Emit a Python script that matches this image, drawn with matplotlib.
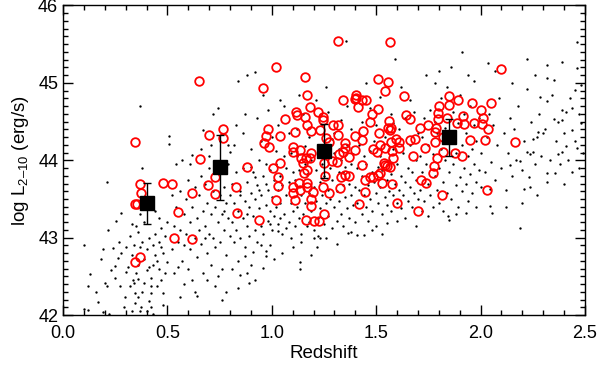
import numpy as np
import matplotlib
matplotlib.use("Agg")
import matplotlib.pyplot as plt
from matplotlib.ticker import MultipleLocator

plt.rcParams["font.family"] = ["Liberation Sans", "DejaVu Sans"]
plt.rcParams["mathtext.fontset"] = "custom"
plt.rcParams["mathtext.rm"] = "Liberation Sans"

# binned means (black squares) with error bars
bin_z = [0.40, 0.75, 1.25, 1.85]
bin_L = [43.45, 43.92, 44.12, 44.30]
bin_lo = [43.18, 43.49, 43.77, 44.06]
bin_hi = [43.71, 44.33, 44.47, 44.54]

# red open circles (z, logL)
circles = [
    (0.343, 44.24), (0.65, 45.02), (0.343, 43.43), (0.355, 43.44), (0.37, 43.70), (0.375, 43.58),
    (0.343, 42.69), (0.367, 42.75), (0.48, 43.71), (0.52, 43.69), (0.55, 43.33), (0.53, 43.00),
    (0.62, 43.58), (0.62, 42.98), (0.655, 44.02), (0.70, 44.33), (0.695, 43.68), (0.727, 43.78),
    (0.727, 43.56), (0.764, 44.41), (0.764, 44.29), (0.827, 43.65), (0.834, 43.32), (0.879, 43.92),
    (0.94, 43.23), (0.96, 44.94), (1.02, 45.21), (0.98, 44.41), (0.97, 44.32), (0.963, 44.22),
    (0.987, 44.17), (1.065, 44.54), (1.04, 44.32), (1.006, 43.90), (1.04, 43.97), (1.03, 43.78),
    (1.03, 43.67), (1.02, 43.49), (1.118, 44.62), (1.123, 44.58), (1.11, 44.37), (1.10, 44.17),
    (1.10, 44.11), (1.10, 43.66), (1.10, 43.58),
    (1.317, 45.54), (1.566, 45.53), (1.159, 45.08), (1.509, 45.05), (1.557, 45.01), (1.542, 44.90),
    (1.633, 44.83), (1.169, 44.85), (1.403, 44.85), (1.403, 44.81), (1.398, 44.79), (1.341, 44.78),
    (1.432, 44.78), (1.451, 44.78), (1.413, 44.69), (1.183, 44.69), (1.221, 44.63), (1.245, 44.56),
    (1.245, 44.52), (1.159, 44.56), (1.169, 44.45), (1.509, 44.66), (1.480, 44.60), (1.643, 44.59),
    (1.662, 44.54), (1.470, 44.50), (1.561, 44.51), (1.293, 44.45), (1.317, 44.45), (1.231, 44.39),
    (1.188, 44.38), (1.437, 44.38), (1.513, 44.35), (1.566, 44.39), (1.571, 44.42), (1.398, 44.32),
    (1.432, 44.26), (1.317, 44.33), (1.351, 44.23), (1.274, 44.24), (1.260, 44.29), (1.135, 44.13),
    (1.188, 44.10), (1.518, 44.20), (1.571, 44.24), (1.595, 44.28), (1.609, 44.24), (1.662, 44.26),
    (1.485, 44.15), (1.505, 44.11), (1.542, 44.16), (1.576, 44.12), (1.609, 44.16), (1.351, 44.16),
    (1.341, 44.11), (1.398, 44.13),
    (1.14, 44.03), (1.165, 44.03), (1.183, 44.03), (1.15, 43.97), (1.169, 43.88), (1.155, 43.84),
    (1.13, 43.71), (1.169, 43.71), (1.135, 43.61), (1.197, 43.59), (1.19, 43.50), (1.188, 43.41),
    (1.11, 43.49), (1.274, 43.58), (1.245, 43.66), (1.25, 43.97), (1.255, 43.80), (1.325, 43.64),
    (1.33, 43.79), (1.351, 43.81), (1.370, 43.80), (1.31, 43.98), (1.29, 43.99), (1.32, 44.08),
    (1.370, 44.04), (1.432, 43.94), (1.445, 43.74), (1.445, 43.59), (1.42, 43.43), (1.485, 43.79),
    (1.509, 43.81), (1.528, 43.71), (1.576, 43.70), (1.600, 43.45), (1.542, 43.94), (1.535, 43.97),
    (1.55, 43.93), (1.676, 44.05), (1.165, 43.23), (1.20, 43.22), (1.225, 43.22), (1.25, 43.31),
    (1.17, 43.66), (1.47, 43.79), (1.58, 44.03), (1.566, 43.92), (1.518, 43.84), (1.557, 44.42),
    (2.10, 45.18), (1.85, 44.83), (1.89, 44.78), (1.80, 44.70), (1.85, 44.72), (1.96, 44.74),
    (2.05, 44.74), (2.00, 44.65), (1.795, 44.61), (1.915, 44.57), (2.01, 44.55), (1.795, 44.54),
    (1.84, 44.55), (1.885, 44.48), (1.92, 44.47), (1.97, 44.48), (2.005, 44.47), (1.75, 44.45),
    (1.785, 44.42), (1.71, 44.42), (2.035, 44.41), (1.78, 44.36), (1.82, 44.30), (1.95, 44.26),
    (2.02, 44.26), (2.165, 44.24), (1.78, 44.24), (1.685, 44.28), (1.735, 44.16), (1.82, 44.11),
    (1.875, 44.09), (1.91, 44.06), (1.79, 44.03), (1.775, 43.93), (1.77, 43.84), (1.715, 43.75),
    (1.74, 43.71), (1.815, 43.55), (2.03, 43.62), (1.70, 43.35),
]

# small black dots (z, logL), parent sample
dots = [
    # z 0.1-0.3
    (0.10, 42.91), (0.12, 42.37), (0.10, 42.08), (0.12, 42.06), (0.17, 42.17), (0.19, 42.04),
    (0.20, 42.42), (0.21, 42.37), (0.19, 42.86), (0.21, 43.72), (0.215, 43.10), (0.24, 42.87),
    (0.25, 42.63), (0.255, 43.21), (0.28, 43.32), (0.25, 42.48), (0.265, 42.74), (0.275, 42.37),
    (0.295, 42.24), (0.30, 42.56), (0.13, 42.53), (0.16, 42.30), (0.22, 42.02), (0.27, 42.95),
    (0.29, 42.10), (0.23, 42.58), (0.28, 42.80), (0.18, 42.72),
    # z 0.3-0.5
    (0.33, 42.05), (0.345, 42.16), (0.36, 42.23), (0.345, 42.29), (0.32, 42.37), (0.335, 42.46),
    (0.37, 42.05), (0.375, 42.10), (0.42, 42.10), (0.42, 42.29), (0.48, 42.29), (0.31, 42.62),
    (0.33, 42.78), (0.34, 42.90), (0.32, 43.02), (0.35, 42.55), (0.36, 42.65), (0.37, 42.88),
    (0.38, 42.95), (0.36, 43.08), (0.39, 42.42), (0.40, 42.58), (0.38, 42.30), (0.39, 42.73),
    (0.40, 42.85), (0.41, 43.00), (0.41, 42.18), (0.42, 42.48), (0.43, 42.65), (0.43, 42.90),
    (0.44, 43.05), (0.45, 42.38), (0.44, 42.78), (0.46, 42.60), (0.46, 42.95), (0.47, 43.12),
    (0.47, 42.45), (0.48, 42.80), (0.49, 43.02), (0.49, 42.55), (0.50, 43.20), (0.37, 43.30),
    (0.38, 43.90), (0.37, 44.70), (0.35, 43.15), (0.44, 43.35), (0.46, 43.25), (0.48, 42.13),
    (0.43, 42.02), (0.39, 43.20), (0.40, 42.05), (0.34, 42.42), (0.45, 42.70), (0.42, 42.38),
    (0.30, 42.88), (0.33, 43.18), (0.36, 42.47), (0.41, 42.62), (0.47, 42.88), (0.50, 42.68),
    # z 0.5-0.8
    (0.51, 44.31), (0.51, 44.21), (0.62, 44.07), (0.67, 44.39), (0.71, 44.20), (0.74, 44.68),
    (0.79, 44.20), (0.80, 44.11), (0.56, 42.24), (0.63, 42.30), (0.73, 42.38), (0.76, 42.20),
    (0.78, 42.30), (0.52, 42.85), (0.53, 43.15), (0.53, 42.55), (0.54, 43.40), (0.55, 42.95),
    (0.56, 43.60), (0.56, 43.10), (0.57, 42.70), (0.58, 43.30), (0.58, 42.90), (0.59, 43.50),
    (0.59, 43.05), (0.60, 42.60), (0.60, 43.75), (0.61, 43.20), (0.61, 42.85), (0.62, 43.40),
    (0.62, 42.45), (0.63, 43.00), (0.63, 43.65), (0.64, 43.25), (0.64, 42.75), (0.65, 43.55),
    (0.65, 43.10), (0.66, 42.92), (0.66, 43.80), (0.67, 43.35), (0.67, 42.55), (0.68, 43.15),
    (0.68, 43.70), (0.69, 42.80), (0.69, 43.45), (0.70, 43.05), (0.70, 43.90), (0.71, 43.30),
    (0.71, 42.65), (0.72, 43.60), (0.72, 43.00), (0.73, 43.40), (0.73, 42.88), (0.74, 43.20),
    (0.74, 43.85), (0.75, 43.55), (0.75, 42.95), (0.76, 43.30), (0.76, 42.60), (0.77, 43.65),
    (0.77, 43.10), (0.78, 43.45), (0.78, 42.78), (0.79, 43.25), (0.79, 43.95), (0.80, 43.55),
    (0.80, 43.02), (0.54, 43.95), (0.57, 44.00), (0.66, 44.15), (0.70, 44.05), (0.72, 44.60),
    (0.75, 44.25), (0.52, 43.55), (0.58, 42.40), (0.64, 42.25), (0.69, 42.45), (0.74, 42.50),
    (0.61, 43.95), (0.68, 43.00), (0.55, 42.62), (0.77, 43.35),
    # z 0.8-1.1
    (0.83, 44.46), (0.84, 45.03), (0.88, 45.10), (0.92, 45.14), (0.89, 42.42), (0.85, 42.52),
    (0.96, 42.61), (0.99, 42.91), (0.97, 42.83), (0.97, 42.77), (0.91, 42.81), (0.87, 42.76),
    (1.03, 43.09), (1.10, 42.88), (1.04, 44.78), (0.81, 43.20), (0.81, 43.70), (0.82, 42.95),
    (0.82, 43.45), (0.83, 43.10), (0.83, 43.85), (0.84, 43.35), (0.84, 42.70), (0.85, 43.60),
    (0.85, 43.00), (0.86, 43.25), (0.86, 43.90), (0.87, 43.48), (0.87, 42.88), (0.88, 43.15),
    (0.88, 43.72), (0.89, 43.40), (0.89, 43.02), (0.90, 43.58), (0.90, 42.65), (0.91, 43.28),
    (0.91, 43.85), (0.92, 43.10), (0.92, 43.50), (0.93, 43.68), (0.93, 42.95), (0.94, 43.38),
    (0.94, 44.00), (0.95, 43.15), (0.95, 43.55), (0.96, 43.80), (0.96, 43.05), (0.97, 43.42),
    (0.97, 43.95), (0.98, 43.22), (0.98, 43.62), (0.99, 43.35), (0.99, 43.88), (1.00, 43.10),
    (1.00, 43.52), (1.01, 43.75), (1.01, 43.28), (1.02, 43.95), (1.02, 43.40), (1.03, 43.62),
    (1.03, 43.18), (1.04, 43.80), (1.04, 43.45), (1.05, 43.05), (1.05, 43.68), (1.06, 44.05),
    (1.06, 43.30), (1.07, 43.55), (1.07, 43.90), (1.08, 43.20), (1.08, 43.72), (1.09, 43.45),
    (1.09, 44.10), (1.10, 43.35), (1.10, 43.85), (0.82, 44.20), (0.86, 44.35), (0.90, 44.15),
    (0.93, 44.55), (0.95, 44.25), (0.98, 44.65), (1.00, 44.30), (1.03, 44.45), (1.06, 44.70),
    (1.08, 44.35), (0.84, 42.35), (0.88, 42.55), (0.92, 42.45), (0.95, 42.90), (1.01, 42.72),
    (1.05, 42.80), (1.09, 43.00), (0.87, 44.60), (0.96, 44.85), (0.90, 43.92), (1.02, 44.12),
    (0.85, 43.55), (0.94, 43.62), (0.99, 43.18), (1.07, 43.12), (0.88, 43.30), (0.92, 43.78),
    (1.04, 43.25), (0.81, 42.60), (0.97, 43.70),
    # z 1.1-1.4
    (1.135, 42.68), (1.135, 42.60), (1.23, 43.00), (1.215, 42.88), (1.365, 43.06), (1.20, 42.99),
    (1.11, 43.15), (1.11, 43.75), (1.12, 43.40), (1.12, 44.05), (1.13, 43.25), (1.13, 43.88),
    (1.14, 43.55), (1.14, 43.05), (1.15, 43.70), (1.15, 43.30), (1.16, 43.95), (1.16, 43.45),
    (1.17, 43.15), (1.17, 43.82), (1.18, 43.58), (1.18, 43.20), (1.19, 44.00), (1.19, 43.35),
    (1.20, 43.65), (1.20, 43.10), (1.21, 43.88), (1.21, 43.48), (1.22, 43.25), (1.22, 44.15),
    (1.23, 43.72), (1.23, 43.38), (1.24, 43.95), (1.24, 43.55), (1.25, 43.18), (1.25, 43.80),
    (1.26, 43.45), (1.26, 44.05), (1.27, 43.62), (1.27, 43.28), (1.28, 43.90), (1.28, 43.50),
    (1.29, 43.12), (1.29, 43.75), (1.30, 44.10), (1.30, 43.40), (1.31, 43.60), (1.31, 43.22),
    (1.32, 43.85), (1.32, 43.48), (1.33, 44.00), (1.33, 43.30), (1.34, 43.68), (1.34, 43.15),
    (1.35, 43.92), (1.35, 43.52), (1.36, 43.38), (1.36, 44.20), (1.37, 43.70), (1.37, 43.25),
    (1.38, 43.95), (1.38, 43.55), (1.39, 43.42), (1.39, 44.08), (1.40, 43.65), (1.40, 43.20),
    (1.12, 44.40), (1.15, 44.60), (1.18, 44.30), (1.21, 44.78), (1.24, 44.45), (1.27, 44.62),
    (1.30, 44.35), (1.33, 44.52), (1.36, 44.70), (1.38, 44.40), (1.13, 44.85), (1.26, 44.95),
    (1.355, 45.54), (1.14, 42.95), (1.19, 42.78), (1.26, 43.00), (1.31, 42.92), (1.38, 43.08),
    (1.25, 44.25), (1.16, 44.18), (1.29, 44.28), (1.32, 44.15), (1.22, 43.02), (1.34, 43.85),
    # z 1.4-1.7
    (1.41, 43.03), (1.44, 43.04), (1.55, 43.19), (1.60, 43.21), (1.72, 43.34), (1.41, 43.45),
    (1.41, 43.90), (1.42, 43.62), (1.42, 44.20), (1.43, 43.30), (1.43, 43.80), (1.44, 43.55),
    (1.44, 44.05), (1.45, 43.40), (1.45, 43.95), (1.46, 43.68), (1.46, 43.22), (1.47, 44.12),
    (1.47, 43.50), (1.48, 43.85), (1.48, 43.35), (1.49, 43.72), (1.49, 44.25), (1.50, 43.58),
    (1.50, 43.15), (1.51, 43.92), (1.51, 43.45), (1.52, 44.05), (1.52, 43.65), (1.53, 43.30),
    (1.53, 43.88), (1.54, 43.52), (1.54, 44.30), (1.55, 43.75), (1.55, 43.42), (1.56, 44.00),
    (1.56, 43.60), (1.57, 43.35), (1.57, 43.82), (1.58, 44.15), (1.58, 43.55), (1.59, 43.70),
    (1.59, 45.31), (1.60, 43.45), (1.60, 43.95), (1.61, 43.62), (1.61, 44.40), (1.62, 43.80),
    (1.62, 43.38), (1.63, 44.10), (1.63, 43.55), (1.64, 43.72), (1.64, 44.55), (1.65, 43.48),
    (1.65, 43.90), (1.66, 43.65), (1.66, 44.20), (1.67, 43.40), (1.67, 43.85), (1.68, 44.62),
    (1.68, 43.58), (1.69, 43.75), (1.69, 44.00), (1.70, 43.50), (1.70, 44.35), (1.43, 44.50),
    (1.47, 44.68), (1.52, 44.82), (1.57, 44.60), (1.62, 44.95), (1.66, 44.78), (1.45, 45.00),
    (1.50, 44.45), (1.58, 44.48), (1.48, 43.10), (1.53, 43.05), (1.64, 43.25), (1.69, 43.15),
    # z 1.7-2.0
    (1.74, 45.10), (1.80, 45.16), (1.91, 45.40), (1.97, 45.02), (1.93, 43.32), (1.85, 43.23),
    (1.845, 43.28), (1.71, 43.62), (1.71, 44.05), (1.72, 43.85), (1.72, 44.30), (1.73, 43.48),
    (1.73, 44.55), (1.74, 43.95), (1.75, 43.70), (1.75, 44.20), (1.76, 43.55), (1.76, 44.65),
    (1.77, 44.08), (1.77, 43.40), (1.78, 43.80), (1.78, 44.50), (1.79, 43.62), (1.79, 44.35),
    (1.80, 43.90), (1.80, 43.45), (1.81, 44.15), (1.81, 44.80), (1.82, 43.72), (1.82, 43.35),
    (1.83, 44.00), (1.83, 44.42), (1.84, 43.58), (1.84, 44.95), (1.85, 43.85), (1.86, 44.25),
    (1.86, 43.50), (1.87, 44.62), (1.87, 43.95), (1.88, 43.68), (1.88, 44.10), (1.89, 43.40),
    (1.89, 44.48), (1.90, 43.78), (1.90, 44.85), (1.91, 44.20), (1.91, 43.60), (1.92, 43.90),
    (1.92, 44.60), (1.93, 43.70), (1.93, 44.35), (1.94, 44.05), (1.94, 43.48), (1.95, 43.82),
    (1.95, 44.70), (1.96, 44.15), (1.96, 43.58), (1.97, 43.95), (1.97, 44.45), (1.98, 43.72),
    (1.98, 44.25), (1.99, 43.88), (1.99, 44.55), (2.00, 43.65), (2.00, 44.10), (1.78, 45.00),
    (1.86, 45.20), (1.94, 45.10), (1.75, 43.28), (1.88, 43.30), (1.98, 43.40),
    # z 2.0-2.5
    (2.035, 45.26), (2.22, 45.31), (2.46, 45.53), (2.39, 45.27), (2.32, 45.23), (2.32, 45.06),
    (2.35, 45.04), (2.46, 45.19), (2.45, 44.91), (2.48, 44.97), (2.22, 44.92), (2.285, 44.82),
    (2.32, 44.76), (2.39, 44.65), (2.41, 44.63), (2.44, 44.68), (2.35, 44.54), (2.37, 44.50),
    (2.39, 44.52), (2.44, 44.39), (2.48, 44.48), (2.275, 44.37), (2.30, 44.35), (2.25, 44.28),
    (2.27, 44.30), (2.41, 44.19), (2.46, 44.16), (2.39, 44.11), (2.37, 44.08), (2.22, 44.11),
    (2.235, 44.08), (2.14, 43.94), (2.19, 43.99), (2.25, 44.11), (2.32, 43.84), (2.355, 43.84),
    (2.44, 43.85), (2.23, 43.79), (2.21, 43.63), (2.235, 43.65), (2.32, 43.72), (2.20, 43.45),
    (2.19, 43.12), (2.045, 43.63), (2.055, 43.32), (2.045, 43.41), (2.02, 43.85), (2.03, 44.30),
    (2.04, 44.60), (2.05, 43.98), (2.06, 44.45), (2.07, 43.75), (2.08, 44.20), (2.09, 44.80),
    (2.10, 43.90), (2.11, 44.35), (2.12, 43.62), (2.13, 44.10), (2.14, 44.55), (2.15, 43.80),
    (2.16, 44.40), (2.17, 44.00), (2.18, 44.70), (2.20, 43.88), (2.21, 44.25), (2.24, 44.50),
    (2.26, 43.95), (2.28, 44.60), (2.29, 44.05), (2.31, 44.40), (2.33, 44.00), (2.34, 44.85),
    (2.36, 44.25), (2.38, 43.95), (2.40, 44.35), (2.42, 44.00), (2.43, 44.80), (2.45, 44.25),
    (2.47, 44.60), (2.49, 44.10), (2.26, 45.10), (2.15, 45.00), (2.07, 45.15), (2.12, 43.40),
    (2.27, 43.55), (2.40, 43.70), (2.47, 43.90),
]

dz, dL = np.array(dots).T
cz, cL = np.array(circles).T
bz, bL = np.array(bin_z), np.array(bin_L)
yerr = [bL - np.array(bin_lo), np.array(bin_hi) - bL]

fig = plt.figure(figsize=(6, 3.66), dpi=100)
ax = fig.add_axes([0.105, 0.139, 0.87, 0.846])

ax.plot(dz, dL, "o", color="black", ms=1.7, mew=0, zorder=1)
ax.plot(cz, cL, "o", mfc="none", mec="red", ms=6.2, mew=1.3, zorder=2)
ax.errorbar(bz, bL, yerr=yerr, fmt="none", ecolor="black", elinewidth=1.0, capsize=3, capthick=1.0, zorder=3)
ax.plot(bz, bL, "s", color="black", ms=10.5, zorder=4)

ax.set_xlim(0, 2.5)
ax.set_ylim(42, 46)
ax.xaxis.set_major_locator(MultipleLocator(0.5))
ax.xaxis.set_minor_locator(MultipleLocator(0.1))
ax.yaxis.set_major_locator(MultipleLocator(1))
ax.yaxis.set_minor_locator(MultipleLocator(0.1))
ax.xaxis.set_major_formatter(plt.FormatStrFormatter("%.1f"))
ax.tick_params(which="both", direction="in", top=True, right=True, width=1.0, labelsize=13)
ax.tick_params(which="major", length=7)
ax.tick_params(which="minor", length=3.5)
ax.tick_params(axis="x", pad=7)
for s in ax.spines.values():
    s.set_linewidth(1.0)

ax.set_xlabel("Redshift", fontsize=13.5, labelpad=2)
ax.set_ylabel("log L$_{\\rm 2\u201310}$ (erg/s)", fontsize=13.5, labelpad=5)

fig.savefig("out.png", dpi=100)
